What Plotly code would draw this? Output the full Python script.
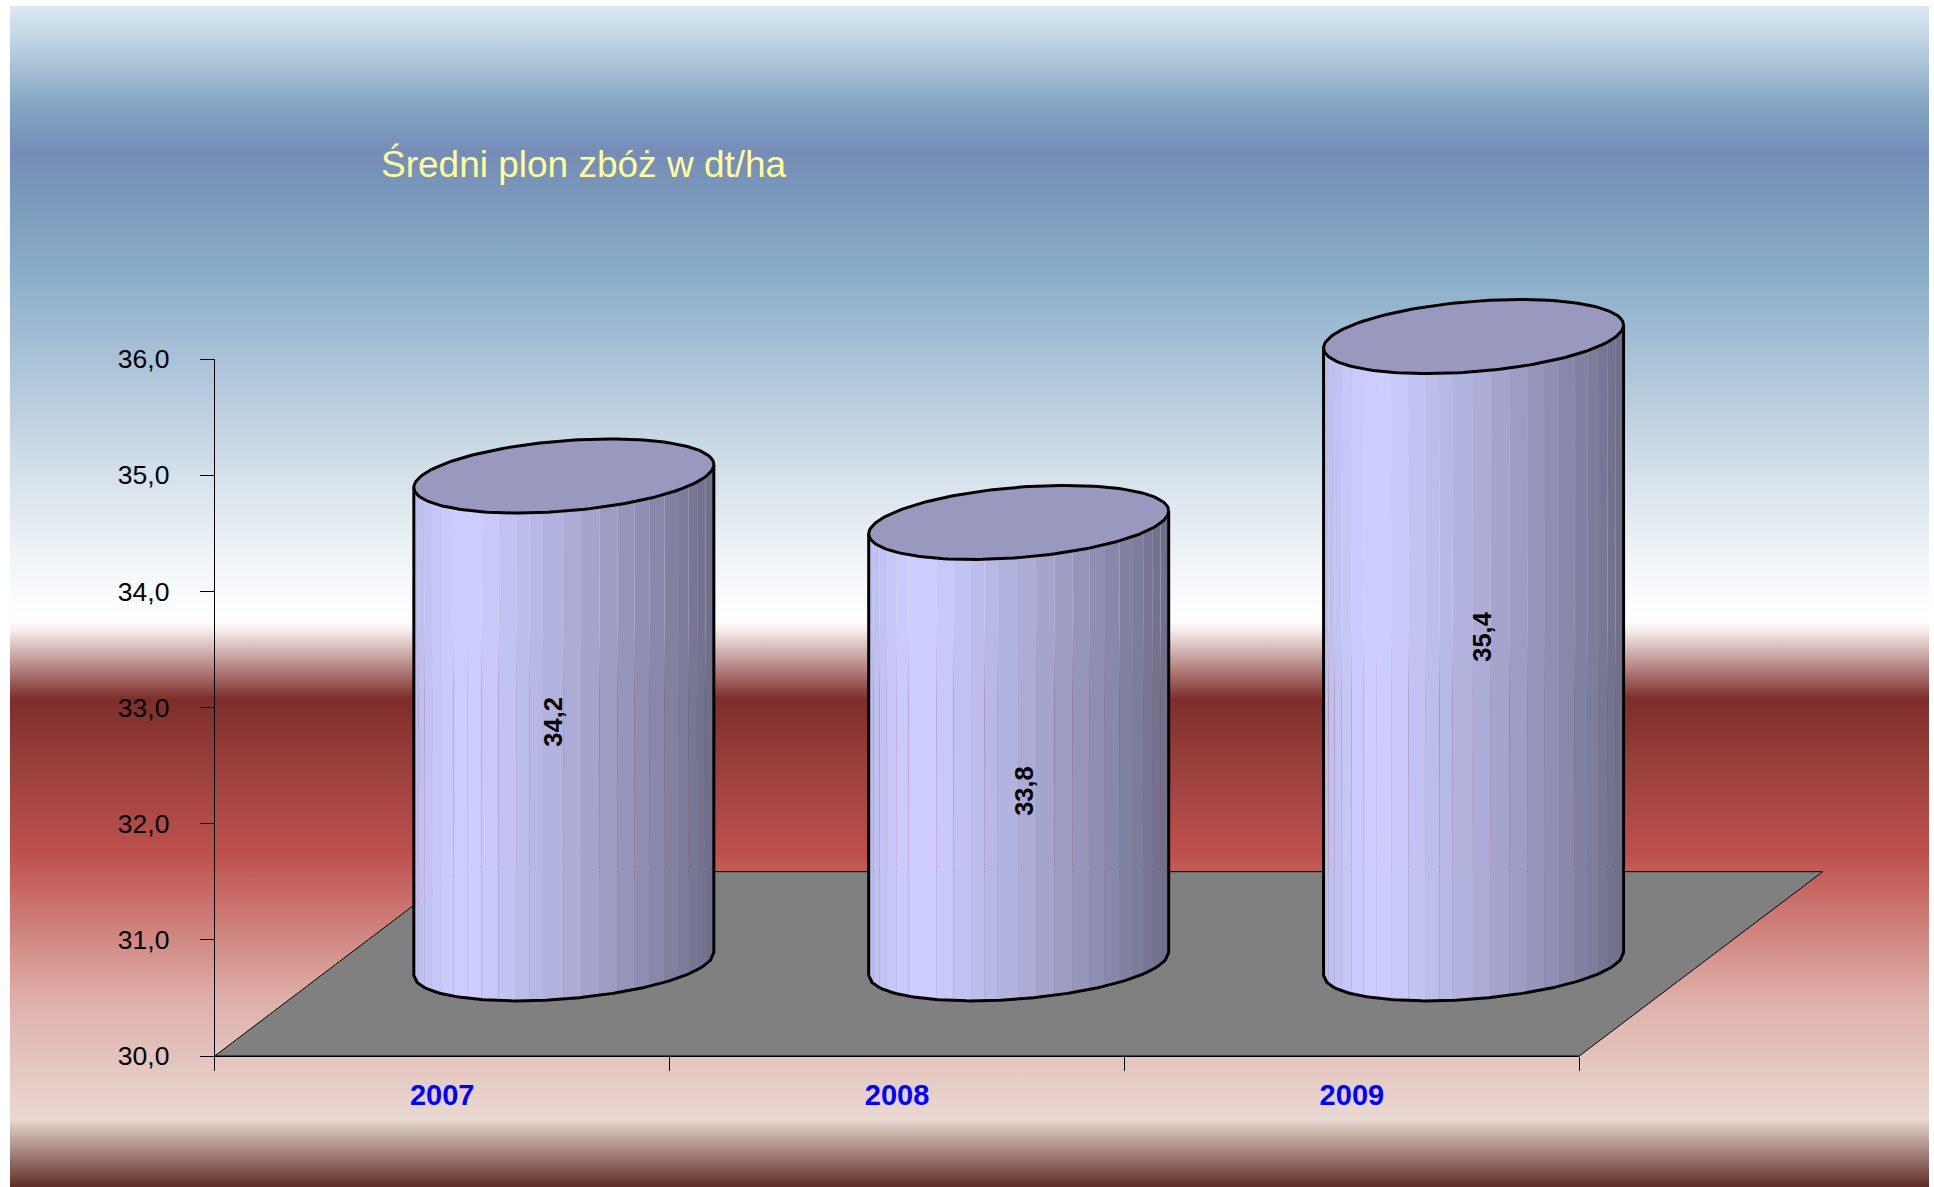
import numpy as np
import plotly.graph_objects as go

# ---- data ----
YEARS = ["2007", "2008", "2009"]
VALUES = [34.2, 33.8, 35.4]
Y_TICKS = [30, 31, 32, 33, 34, 35, 36]
TITLE = "Średni plon zbóż w dt/ha"

# label nudges (px)
LABEL_DX = [-11, 5, 9]
LABEL_DY = [2, 48, -13]

# ---- page geometry (px) ----
W, H = 1934, 1187
PLOT_L, PLOT_R, PLOT_T, PLOT_B = 214.7, 1579.3, 359.0, 1056.0
UX = (PLOT_R - PLOT_L) / 3.0       # px per category
UY = (PLOT_B - PLOT_T) / 6.0       # px per value unit
DEPTH_X = 243.4 / UX               # floor depth in x units
DEPTH_Y = 184.3 / UY               # floor depth in y units
RX, SKEW, RY = 150.0 / UX, 11.5 / UY, 35.2 / UY   # tilted ellipse radii

def px_x(p):
    return (p - PLOT_L) / UX

def px_y(p):
    return 30 + (PLOT_B - p) / UY

# facet seams across the cylinder, zoomed picture units
SEAMS = np.array([37, 52, 70, 92, 122, 157, 198, 241, 293, 346, 387, 427, 488,
                  542, 598, 652, 703, 748, 794, 835, 866, 895, 918, 943], float)
SEAMS = (SEAMS - SEAMS[0]) / (SEAMS[-1] - SEAMS[0])

def shade(f):
    s = np.interp(f, [0, 0.13, 0.22, 0.5, 0.75, 1.0], [0.93, 1.0, 1.0, 0.86, 0.71, 0.54])
    return "rgb(%d,%d,%d)" % (204 * s, 204 * s, 255 * s)

# background gradient: (pixel row, colour)
GRAD = [(6, "#dce9f3"), (60, "#aec6da"), (105, "#82a6c2"), (153, "#758cb7"),
        (205, "#7c9bbd"), (270, "#88adc8"), (370, "#aec5d9"), (480, "#d6e2eb"),
        (560, "#f1f5f8"), (620, "#ffffff"), (630, "#f6eeed"), (699, "#7e2d2a"),
        (765, "#99403c"), (852, "#bd504c"), (900, "#c96f6a"), (1000, "#dfb0aa"),
        (1120, "#e9d9d2"), (1126, "#d9c6bd"), (1187, "#5e2d25")]

fig = go.Figure()

# background
top_v, bot_v = px_y(GRAD[0][0]), px_y(GRAD[-1][0])
fig.add_trace(go.Scatter(
    x=[px_x(10), px_x(1929), px_x(1929), px_x(10), px_x(10)],
    y=[top_v, top_v, bot_v, bot_v, top_v],
    mode="none", fill="toself", hoverinfo="skip", showlegend=False,
    fillgradient=dict(
        type="vertical", start=bot_v, stop=top_v,
        colorscale=[[(GRAD[-1][0] - r) / (GRAD[-1][0] - GRAD[0][0]), c] for r, c in reversed(GRAD)],
    ),
))

# floor
fig.add_trace(go.Scatter(
    x=[0, 3, 3 + DEPTH_X, DEPTH_X, 0], y=[30, 30, 30 + DEPTH_Y, 30 + DEPTH_Y, 30],
    mode="lines", fill="toself", fillcolor="#808080", line=dict(color="black", width=1),
    hoverinfo="skip", showlegend=False,
))

def front(cx, cy, f):
    """Point on the front half of the tilted ellipse at width fraction f."""
    th = np.arccos(1 - 2 * f)
    return cx - RX * np.cos(th), cy - SKEW * np.cos(th) - RY * np.sin(th)

for i, v in enumerate(VALUES):
    cx = i + 0.5 + DEPTH_X / 2
    base = 30 + DEPTH_Y / 2
    top = v + DEPTH_Y / 2
    # side facets
    for a, b in zip(SEAMS[:-1], SEAMS[1:]):
        fs = np.linspace(a, b, 6)
        xb, yb = front(cx, base, fs)
        xt, yt = front(cx, top, fs[::-1])
        fig.add_trace(go.Scatter(
            x=np.r_[xb, xt], y=np.r_[yb, yt], mode="none", fill="toself",
            fillcolor=shade((a + b) / 2), hoverinfo="skip", showlegend=False,
        ))
    # outline of side
    fs = np.linspace(0, 1, 90)
    xb, yb = front(cx, base, fs)
    fig.add_trace(go.Scatter(
        x=np.r_[cx - RX, xb, cx + RX], y=np.r_[top - SKEW, yb, top + SKEW], mode="lines",
        line=dict(color="black", width=3), hoverinfo="skip", showlegend=False,
    ))
    # top ellipse
    t = np.linspace(0, 2 * np.pi, 181)
    fig.add_trace(go.Scatter(
        x=cx + RX * np.cos(t), y=top + SKEW * np.cos(t) + RY * np.sin(t), mode="lines",
        fill="toself", fillcolor="#9999bf", line=dict(color="black", width=3),
        hoverinfo="skip", showlegend=False,
    ))
    # value label
    fig.add_annotation(
        x=cx, y=(base + top) / 2, text=f"{v:.1f}".replace(".", ","), textangle=-90,
        showarrow=False, xshift=LABEL_DX[i], yshift=-LABEL_DY[i],
        font=dict(family="Liberation Sans", size=25.5, color="black", weight="bold"),
    )

AXIS_FONT = dict(family="Liberation Sans", size=26.5, color="black")

fig.update_layout(
    width=W, height=H, autosize=False,
    margin=dict(l=0, r=0, t=0, b=0, pad=0, autoexpand=False),
    paper_bgcolor="white", plot_bgcolor="rgba(0,0,0,0)",
    separators=", ", showlegend=False,
    title=dict(
        text=TITLE, x=381 / W, y=1 - 164 / H, xanchor="left", yanchor="middle",
        xref="container", yref="container",
        font=dict(family="Liberation Sans", size=37, color="#ffff99"),
    ),
    # full-page scales carrying the marks
    xaxis=dict(range=[px_x(0), px_x(W)], domain=[0, 1], visible=False),
    yaxis=dict(range=[px_y(H), px_y(0)], domain=[0, 1], visible=False),
    # the same scales, shown over the plot area
    xaxis2=dict(
        domain=[PLOT_L / W, PLOT_R / W], anchor="y2",
        range=[0, 3], tickmode="array", tickvals=[0.5, 1.5, 2.5], ticktext=YEARS,
        ticks="", showgrid=False, zeroline=False, showline=True, linecolor="black", linewidth=1,
        ticklabelstandoff=13,
        tickfont=dict(family="Liberation Sans", size=29, color="#0000ff", weight="bold"),
        minor=dict(tickmode="array", tickvals=[0, 1, 2, 3], ticks="outside", ticklen=14,
                   tickcolor="black", tickwidth=1, showgrid=False),
    ),
    yaxis2=dict(
        domain=[1 - PLOT_B / H, 1 - PLOT_T / H], anchor="x2",
        range=[30, 36], tickmode="array", tickvals=Y_TICKS, tickformat=".1f",
        ticks="outside", ticklen=14, tickcolor="black", tickwidth=1,
        showgrid=False, zeroline=False, showline=True, linecolor="black", linewidth=1,
        ticklabelstandoff=25,
        tickfont=AXIS_FONT,
    ),
)
# empty trace that keeps the shown axes alive
fig.add_trace(go.Scatter(x=[None], y=[None], xaxis="x2", yaxis="y2", mode="none",
                         hoverinfo="skip", showlegend=False))

fig.write_html("out.html", config={"displayModeBar": False},
               post_script="document.body.style.margin='0';document.documentElement.style.overflow='hidden';")
